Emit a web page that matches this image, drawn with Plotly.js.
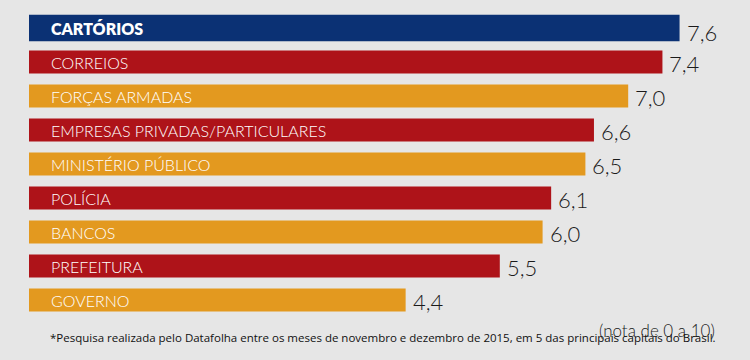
<!DOCTYPE html>
<html><head><meta charset="utf-8">
<script src="https://cdn.plot.ly/plotly-3.0.1.min.js"></script>
<style>html,body{margin:0;padding:0;background:#e6e6e6}</style>
</head><body>
<div id="chart" style="width:750px;height:360px"></div>
<script>
const categories = ["CARTÓRIOS","CORREIOS","FORÇAS ARMADAS","EMPRESAS PRIVADAS/PARTICULARES","MINISTÉRIO PÚBLICO","POLÍCIA","BANCOS","PREFEITURA","GOVERNO"];
const values = [7.6, 7.4, 7.0, 6.6, 6.5, 6.1, 6.0, 5.5, 4.4];
const barColors = ["#0b3174","#ae1319","#e3991f","#ae1319","#e3991f","#ae1319","#e3991f","#ae1319","#e3991f"];
const barWidths = [0.78,0.67,0.67,0.67,0.67,0.67,0.67,0.67,0.67];
const footnote = "*Pesquisa realizada pelo Datafolha entre os meses de novembro e dezembro de 2015, em 5 das principais capitais do Brasil.";
const scaleNote = "(nota de 0 a 10)";

const fmt = v => v.toFixed(1).replace('.', ',');

const L = 29, R = 0, T = 11, B = 43, W = 750, H = 360;
const pw = W - L - R, ph = H - T - B;

const trace = {
  type: 'bar', orientation: 'h',
  y: categories, x: values,
  marker: {color: barColors},
  width: barWidths,
  hoverinfo: 'skip'
};

const annotations = [];
categories.forEach((c, i) => {
  annotations.push({
    x: 0, y: c, xref: 'x', yref: 'y', xanchor: 'left', yanchor: 'middle',
    xshift: 20, showarrow: false, text: c,
    font: {family: 'Lato, sans-serif', size: 16, color: '#ffffff', weight: i === 0 ? 800 : 300}
  });
  annotations.push({
    x: values[i], y: c, xref: 'x', yref: 'y', xanchor: 'left', yanchor: 'middle',
    xshift: 5, yshift: i === 0 ? -4 : -1, showarrow: false, text: fmt(values[i]),
    font: {family: 'Lato, sans-serif', size: 22, color: '#1a1a1a', weight: 300}
  });
});
annotations.push({
  x: (48 - L) / pw, y: (H - B - 337) / ph, xref: 'paper', yref: 'paper',
  xanchor: 'left', yanchor: 'middle', showarrow: false, text: footnote,
  font: {family: 'Open Sans, sans-serif', size: 11.5, color: '#111111'}
});
annotations.push({
  x: (717 - L) / pw, y: (H - B - 330) / ph, xref: 'paper', yref: 'paper',
  xanchor: 'right', yanchor: 'middle', showarrow: false, text: scaleNote,
  font: {family: 'Lato, sans-serif', size: 17, color: '#1a1a1a', weight: 300}
});

const layout = {
  width: W, height: H,
  margin: {l: L, r: R, t: T, b: B, pad: 0},
  paper_bgcolor: '#e6e6e6', plot_bgcolor: '#e6e6e6',
  showlegend: false,
  xaxis: {range: [0, pw / 85.6], visible: false, fixedrange: true},
  yaxis: {type: 'category', range: [8.5, -0.5], visible: false, fixedrange: true},
  annotations: annotations
};
Plotly.newPlot('chart', [trace], layout, {displayModeBar: false, staticPlot: true});
</script>
</body></html>
